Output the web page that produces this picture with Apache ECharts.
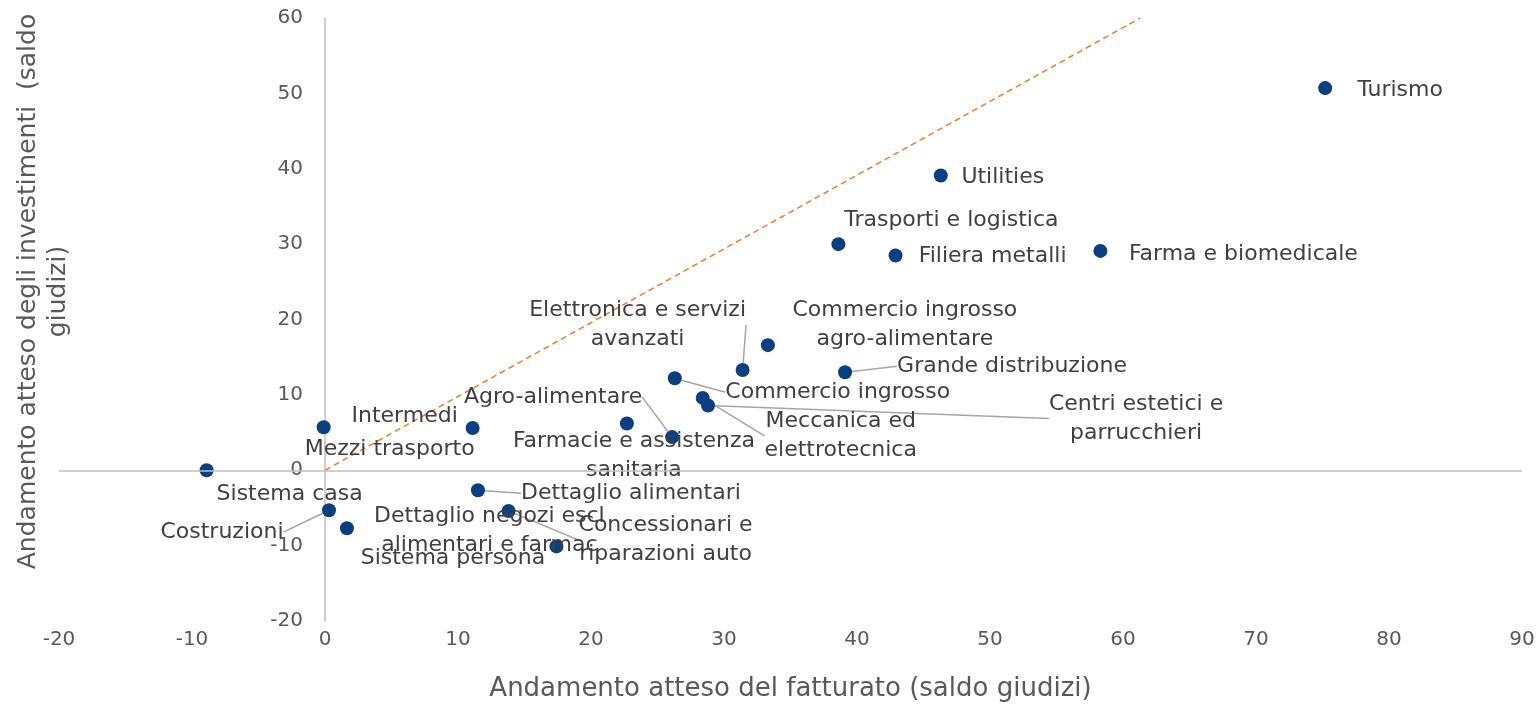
<!DOCTYPE html>
<html>
<head>
<meta charset="utf-8">
<script src="https://cdn.jsdelivr.net/npm/echarts@6/dist/echarts.min.js"></script>
<style>
  html, body { margin: 0; padding: 0; background: #fff; }
  #chart { width: 1539px; height: 705px; }
</style>
</head>
<body>
<div id="chart"></div>
<script>
// settori, fatturato atteso (x) e investimenti attesi (y)
var sectors = [
  'Turismo', 'Utilities', 'Trasporti e logistica', 'Filiera metalli', 'Farma e biomedicale',
  'Commercio ingrosso\nagro-alimentare', 'Elettronica e servizi\navanzati', 'Grande distribuzione',
  'Commercio ingrosso', 'Centri estetici e\nparrucchieri', 'Meccanica ed\nelettrotecnica',
  'Agro-alimentare', 'Farmacie e assistenza\nsanitaria', 'Intermedi', 'Mezzi trasporto',
  'Sistema casa', 'Costruzioni', 'Sistema persona', 'Dettaglio alimentari',
  'Dettaglio negozi escl\nalimentari e farmac', 'Concessionari e\nriparazioni auto'
];
var fatturato = [75.2, 46.3, 38.6, 42.9, 58.3, 33.3, 31.4, 39.1, 26.3, 28.8, 28.4,
                 26.1, 22.7, 11.1, -0.1, -8.9, 0.3, 1.65, 11.5, 17.4, 13.8];
var investimenti = [50.7, 39.1, 30.0, 28.5, 29.1, 16.6, 13.3, 13.0, 12.2, 8.6, 9.6,
                    4.4, 6.2, 5.6, 5.7, 0, -5.3, -7.7, -2.65, -10.1, -5.4];
// bisettrice
var diagonale = [[0, 0], [61.3, 60]];
var xTicks = [-20, 90, 10];
var yTicks = [-20, 60, 10];

// spostamento etichette (px) e linee guida
var labelShift = [
  [75, 2], [62, 2], [113, -24], [97, 1], [143, 3],
  [137, -20], [-105, -45], [167, -6], [163, 14], [428, 13], [138, 38],
  [-119, -40], [7, 32], [-68, -12], [66, 22], [83, 24], [-107, 22],
  [106, 30], [153, 3], [-67, -16], [157, 29]
];
var leader = [0, 0, 0, 0, 0, 0, 1, 1, 1, 1, 1, 1, 0, 0, 0, 0, 1, 0, 1, 0, 1];

var FONT = 'DejaVu Sans';
var points = sectors.map(function (s, i) {
  return {
    name: s,
    value: [fatturato[i], investimenti[i]],
    labelLine: { show: !!leader[i] }
  };
});

var myChart = echarts.init(document.getElementById('chart'));
var option = {
  backgroundColor: '#FFFFFF',
  animation: false,
  grid: { left: 59, right: 17, top: 18, bottom: 84, containLabel: false, outerBoundsMode: 'none' },
  xAxis: {
    type: 'value',
    min: xTicks[0], max: xTicks[1], interval: xTicks[2],
    name: 'Andamento atteso del fatturato (saldo giudizi)',
    nameLocation: 'middle',
    nameGap: 55,
    nameTextStyle: { fontFamily: FONT, fontSize: 26, color: '#595959' },
    axisLine: { show: false, onZero: false },
    axisTick: { show: false },
    splitLine: { show: false },
    axisLabel: { fontFamily: FONT, fontSize: 20, color: '#595959', margin: 9 }
  },
  yAxis: {
    type: 'value',
    min: yTicks[0], max: yTicks[1], interval: yTicks[2],
    position: 'left',
    offset: -266,
    name: 'Andamento atteso degli investimenti  (saldo\ngiudizi)',
    nameLocation: 'middle',
    nameGap: 252,
    nameTextStyle: { fontFamily: FONT, fontSize: 25, color: '#595959', lineHeight: 30, padding: [0, 0, 0, 56] },
    axisLine: { show: true, onZero: false, lineStyle: { color: '#BFBFBF', width: 1.5 } },
    axisTick: { show: false },
    splitLine: { show: false },
    axisLabel: { fontFamily: FONT, fontSize: 20, color: '#595959', margin: 22 }
  },
  series: [
    {
      type: 'line',
      data: diagonale,
      symbol: 'none',
      silent: true,
      lineStyle: { color: '#ED7D31', width: 1.5, type: [6, 4] },
      markLine: {
        silent: true,
        symbol: 'none',
        label: { show: false },
        lineStyle: { color: '#BFBFBF', width: 1.5, type: 'solid' },
        data: [{ yAxis: 0 }]
      },
      z: 1
    },
    {
      type: 'scatter',
      data: points,
      symbolSize: 14,
      itemStyle: { color: '#0B3F7F', opacity: 1 },
      z: 3,
      label: {
        show: true,
        position: 'inside',
        formatter: '{b}',
        fontFamily: FONT,
        fontSize: 22,
        lineHeight: 29,
        color: '#404040'
      },
      labelLine: { show: true, lineStyle: { color: '#A6A6A6', width: 1.5 } },
      labelLayout: function (params) {
        var d = labelShift[params.dataIndex];
        return { dx: d[0], dy: d[1] };
      }
    }
  ]
};
myChart.setOption(option);
</script>
</body>
</html>
